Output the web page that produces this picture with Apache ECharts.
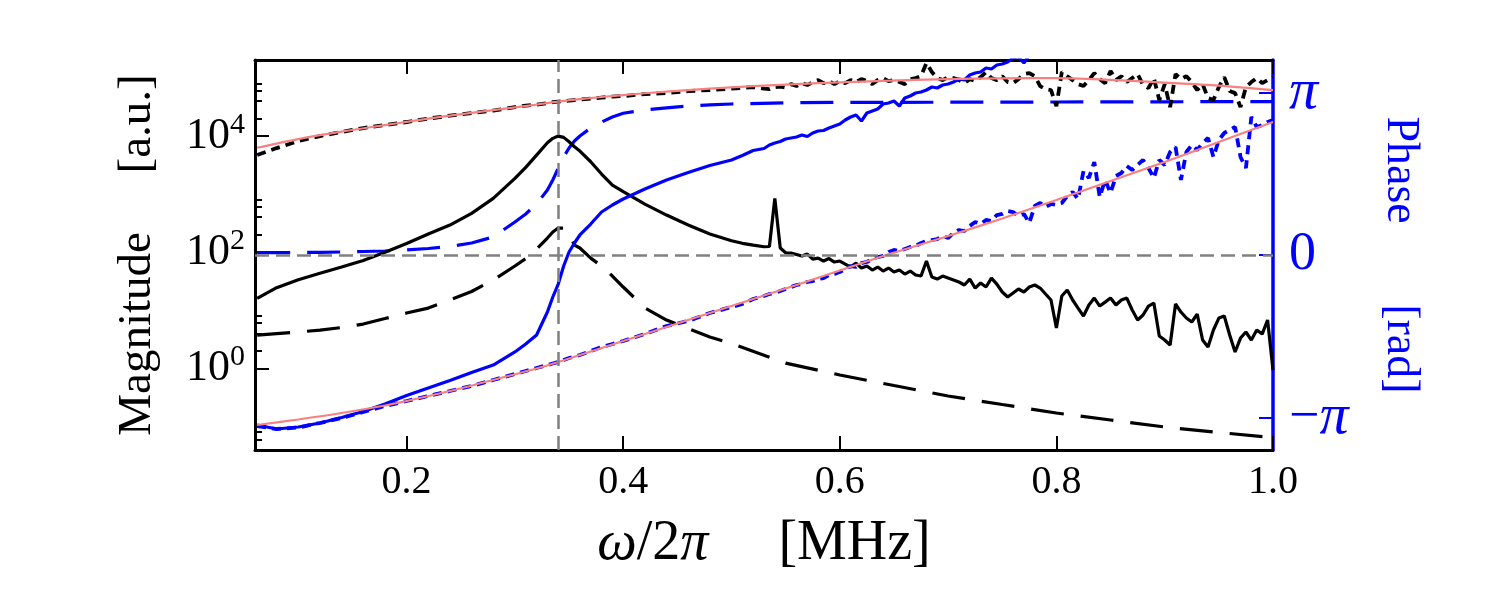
<!DOCTYPE html>
<html>
<head>
<meta charset="utf-8">
<title>Magnitude and phase</title>
<script src="https://cdn.jsdelivr.net/npm/echarts@6/dist/echarts.min.js"></script>
<style>
  html, body { margin: 0; background: #fff; }
  #main { width: 1500px; height: 600px; }
</style>
</head>
<body>
<div id="main"></div>
<script>
// frequency grids, MHz
var freqMeas = [
  0.062, 0.08, 0.10, 0.12, 0.14, 0.16, 0.18, 0.20, 0.22, 0.24, 0.26, 0.28, 0.30,
  0.31, 0.32, 0.33, 0.335, 0.34, 0.345, 0.35, 0.355, 0.36,
  0.37, 0.38, 0.39, 0.40, 0.42, 0.44, 0.46, 0.48, 0.50,
  0.51, 0.52, 0.53, 0.535, 0.54, 0.545, 0.55,
  0.555, 0.56, 0.565, 0.57, 0.575, 0.58, 0.585, 0.59, 0.595, 0.60,
  0.605, 0.61, 0.615, 0.62, 0.625, 0.63, 0.635, 0.64, 0.645, 0.65,
  0.655, 0.66, 0.665, 0.67, 0.675, 0.68, 0.685, 0.69, 0.695, 0.70,
  0.705, 0.71, 0.715, 0.72, 0.725, 0.73, 0.735, 0.74, 0.745, 0.75,
  0.755, 0.76, 0.765, 0.77, 0.775, 0.78, 0.785, 0.79, 0.795, 0.80,
  0.805, 0.81, 0.815, 0.82, 0.825, 0.83, 0.835, 0.84, 0.845, 0.85,
  0.855, 0.86, 0.865, 0.87, 0.875, 0.88, 0.885, 0.89, 0.895, 0.90,
  0.905, 0.91, 0.915, 0.92, 0.925, 0.93, 0.935, 0.94, 0.945, 0.95,
  0.955, 0.96, 0.965, 0.97, 0.975, 0.98, 0.985, 0.99, 0.995, 1.00
];
var freqModel = [
  0.062, 0.08, 0.10, 0.12, 0.14, 0.16, 0.18, 0.20, 0.22, 0.24, 0.26, 0.28, 0.30,
  0.31, 0.32, 0.33, 0.335, 0.34, 0.345, 0.35, 0.355, 0.36,
  0.37, 0.38, 0.39, 0.40, 0.42, 0.44, 0.46, 0.48, 0.50,
  0.55, 0.60, 0.65, 0.70, 0.75, 0.80, 0.85, 0.90, 0.95, 1.00
];
var freqFit = [
  0.062, 0.10, 0.14, 0.18, 0.20, 0.24, 0.28, 0.32, 0.34, 0.36, 0.40, 0.44,
  0.48, 0.52, 0.56, 0.60, 0.64, 0.70, 0.75, 0.80, 0.85, 0.90, 0.95, 1.00
];

// magnitude, a.u. (log axis)
var magDrive = [
  4690, 6190, 8170, 9950, 11700, 13700, 15400, 17400, 19900, 22400, 24800, 27400, 31400,
  33400, 34700, 36800, 38300, 39100, 39900, 40700, 41500, 42300,
  44000, 45800, 47600, 48600, 52600, 54700, 59300, 61700, 65400,
  66800, 69500, 65400, 64100, 69500, 70800, 68100,
  78200, 72300, 81300, 75200, 84700, 91600, 81300, 88100, 78200, 88100,
  81300, 91600, 84700, 95300, 88100, 78200, 91600, 99300, 88100, 91600,
  84700, 78200, 95300, 99300, 107000, 180000, 126000, 99300, 91600, 103000,
  99300, 91600, 81300, 95300, 88100, 103000, 126000, 99300, 91600, 107000,
  84700, 81300, 95300, 116000, 121000, 107000, 72300, 64100, 61700, 32700,
  126000, 107000, 91600, 78200, 72300, 91600, 121000, 95300, 81300, 131000,
  91600, 107000, 84700, 99300, 116000, 75200, 66800, 99300, 41500, 78200,
  31400, 116000, 95300, 107000, 84700, 61700, 78200, 44900, 41500, 69500,
  103000, 59300, 54700, 31400, 69500, 84700, 99300, 81300, 91600, 103000
];
var magResponse = [
  16.0, 24.5, 33.4, 43.2, 55.4, 71.7, 100, 141, 205, 293, 466, 843, 1860,
  2880, 4690, 7640, 9100, 9960, 9460, 7940, 6520, 5500,
  3600, 2210, 1430, 1100, 673, 435, 293, 205, 157,
  142, 132, 124, 125, 843, 118, 97.7,
  96.5, 91, 85.7, 92.7, 76, 79, 70.3, 77.6, 67.6, 70.3,
  62.4, 55.4, 64.9, 53.2, 57.7, 49.2, 55.4, 47.3, 53.2, 45.4,
  49.2, 42, 47.3, 40.4, 38.8, 70.3, 37.3, 34.4, 38.8, 35.8,
  33.1, 30.6, 27.2, 34.4, 24.1, 29.4, 25.1, 35.8, 28.2, 20.6,
  16.9, 19.8, 23.2, 20.6, 25.1, 27.2, 24.1, 19, 15, 4.94,
  17.6, 22.3, 15, 10.9, 7.94, 12.3, 16.2, 11.8, 13.8, 16.2,
  12.3, 15, 16.2, 10.1, 6.78, 8.27, 11.8, 13.3, 3.6, 3.07,
  2.52, 12.8, 9.31, 7.34, 6.27, 8.6, 3.07, 2.33, 4.57, 7.34,
  7.94, 3.74, 1.91, 3.32, 4.22, 3.07, 4.56, 3.89, 6.78, 0.935
];
var magModel = [
  3.74, 3.97, 4.22, 4.56, 5.04, 5.78, 7.19, 8.95, 10.9, 15.0, 21.0, 33.1, 57.7,
  77.6, 113, 175, 222, 260, 260, 205, 132, 118,
  79, 57.7, 38.8, 25.1, 11.0, 6.78, 4.84, 3.46, 2.67,
  1.23, 0.767, 0.506, 0.334, 0.238, 0.170, 0.129, 0.0977, 0.0785, 0.0644
];
var magFit = [
  6270, 8850, 11900, 15400, 17500, 22400, 27900, 34700, 39100, 43200, 50600, 58100,
  65400, 72300, 78200, 83700, 88800, 95300, 98400, 99300, 92400, 83000, 73600, 61700
];

// phase, rad
var phaseResponse = [
  -3.287, -3.364, -3.325, -3.248, -3.142, -3.026, -2.881, -2.716, -2.571, -2.426, -2.272, -2.127, -1.875,
  -1.721, -1.547, -1.102, -0.812, -0.561, -0.213, 0.058, 0.232, 0.387,
  0.599, 0.831, 0.967, 1.083, 1.276, 1.450, 1.595, 1.730, 1.837,
  1.924, 2.020, 2.059, 2.127, 2.165, 2.194, 2.243,
  2.262, 2.281, 2.320, 2.291, 2.359, 2.397, 2.407, 2.455, 2.494, 2.533,
  2.610, 2.668, 2.707, 2.591, 2.745, 2.784, 2.823, 2.919, 2.939, 2.977,
  2.881, 3.035, 3.074, 3.132, 3.151, 3.190, 3.248, 3.229, 3.287, 3.306,
  3.345, 3.403, 3.383, 3.480, 3.519, 3.538, 3.615, 3.596, 3.673, 3.693,
  3.731, 3.809, 3.828, 3.712, 3.867, 3.963, 4.041, 4.157, 4.234, 4.311,
  null, null, null, null, null, null, null, null, null, null,
  null, null, null, null, null, null, null, null, null, null,
  null, null, null, null, null, null, null, null, null, null,
  null, null, null, null, null, null, null, null, null, null
];
var phaseDrive = [
  -3.306, -3.364, -3.335, -3.248, -3.151, -3.035, -2.919, -2.823, -2.726, -2.629, -2.533, -2.417, -2.301,
  -2.243, -2.185, -2.127, -2.098, -2.069, -2.030, -1.991, -1.962, -1.933,
  -1.856, -1.779, -1.721, -1.663, -1.527, -1.373, -1.276, -1.121, -1.005,
  -0.947, -0.851, -0.793, -0.754, -0.735, -0.696, -0.657,
  -0.619, -0.580, -0.561, -0.522, -0.503, -0.464, -0.445, -0.387, -0.367, -0.329,
  -0.271, -0.213, -0.232, -0.155, -0.135, -0.077, -0.039, -0.019, 0.058, 0.097,
  0.077, 0.116, 0.155, 0.174, 0.232, 0.271, 0.290, 0.309, 0.367, 0.329,
  0.425, 0.483, 0.464, 0.561, 0.638, 0.599, 0.677, 0.657, 0.773, 0.793,
  0.851, 0.831, 0.754, 0.793, 0.619, 0.947, 1.005, 0.928, 0.986, 0.967,
  1.005, 1.141, 1.218, 1.083, 1.624, 1.489, 1.798, 1.121, 1.450, 1.199,
  1.527, 1.585, 1.721, 1.643, 1.740, 1.837, 1.682, 1.489, 1.837, 1.740,
  1.991, 2.088, 1.450, 1.991, 2.127, 2.030, 2.165, 2.262, 1.895, 2.223,
  2.359, 2.417, 2.475, 1.895, 1.682, 2.668, 2.475, 2.513, 2.571, 2.610
];
var phaseModel = [
  0.044, 0.046, 0.048, 0.052, 0.058, 0.068, 0.077, 0.097, 0.126, 0.164, 0.232, 0.348, 0.638,
  0.793, 0.986, 1.257, 1.450, 1.682, 1.895, 2.069, 2.204, 2.301,
  2.455, 2.571, 2.668, 2.740, 2.803, 2.846, 2.881, 2.904, 2.919,
  2.943, 2.950, 2.952, 2.954, 2.956, 2.958, 2.960, 2.962, 2.964, 2.966
];
var phaseFit = [
  -3.287, -3.180, -3.055, -2.910, -2.823, -2.630, -2.417, -2.195, -2.069, -1.933, -1.663, -1.392,
  -1.121, -0.851, -0.580, -0.300, -0.019, 0.367, 0.706, 1.063, 1.431, 1.798, 2.185, 2.571
];

var resonanceFreq = 0.341;
var freqTicks = [0.2, 0.4, 0.6, 0.8, 1.0];
var magMajorTicks = [1, 100, 10000];
var magMinorTicks = [0.06, 0.08, 2, 4, 6, 8, 200, 400, 600, 800, 20000, 40000, 60000, 80000];
var phaseTicks = [-Math.PI, 0, Math.PI];

var serif = 'Liberation Serif';
var blue = '#0000ff';
var pink = '#f88080';
var magRange = [-1.406, 5.308];            // decades shown
var phaseRange = [-1.2 * Math.PI, 1.2 * Math.PI];

function pairs(xs, ys, fn) {
  return xs.map(function (x, i) {
    var y = ys[i];
    return [x, y == null ? null : (fn ? fn(y) : y)];
  });
}
function decade(v) { return Math.log10(v); }

function line(name, xs, ys, yIndex, color, width, type, fn, extra) {
  var s = {
    name: name,
    type: 'line',
    xAxisIndex: 0,
    yAxisIndex: yIndex,
    data: pairs(xs, ys, fn),
    showSymbol: false,
    symbol: 'none',
    silent: true,
    lineStyle: { color: color, width: width, type: type, cap: 'butt' }
  };
  for (var k in extra) s[k] = extra[k];
  return s;
}

var chart = echarts.init(document.getElementById('main'));

var tickStyle = { width: 2, color: '#000' };

var option = {
  animation: false,
  backgroundColor: '#ffffff',
  textStyle: { fontFamily: serif },
  grid: { left: 255, right: 227, top: 60, bottom: 150, outerBoundsMode: 'none' },
  xAxis: [{
    type: 'value', position: 'bottom', min: 0.06, max: 1.0,
    axisLine: { onZero: false, lineStyle: { color: '#000', width: 3 } },
    axisTick: { inside: true, length: 14, lineStyle: tickStyle, customValues: freqTicks },
    axisLabel: {
      customValues: freqTicks, margin: 12, color: '#000', fontFamily: serif, fontSize: 40,
      formatter: function (v) { return v.toFixed(1); }
    },
    splitLine: { show: false },
    name: '{i|ω}{r|/2}{i|π}{r|     [MHz]}',
    nameLocation: 'middle', nameGap: 66,
    nameTextStyle: {
      color: '#000',
      rich: {
        i: { fontFamily: serif, fontSize: 56, fontStyle: 'italic', color: '#000' },
        r: { fontFamily: serif, fontSize: 56, color: '#000' }
      }
    }
  }, {
    type: 'value', position: 'top', min: 0.06, max: 1.0,
    axisLine: { onZero: false, lineStyle: { color: '#000', width: 3 } },
    axisTick: { inside: true, length: 14, lineStyle: tickStyle, customValues: freqTicks },
    axisLabel: { show: false },
    splitLine: { show: false }
  }],
  yAxis: [{
    type: 'value', position: 'left', min: magRange[0], max: magRange[1],
    axisLine: { onZero: false, lineStyle: { color: '#000', width: 3 } },
    axisTick: { inside: true, length: 14, lineStyle: tickStyle, customValues: magMajorTicks.map(decade) },
    axisLabel: {
      customValues: magMajorTicks.map(decade), margin: 10,
      formatter: function (v) { return '{b|10}{s|' + Math.round(v) + '}'; },
      rich: {
        b: { fontFamily: serif, fontSize: 44, lineHeight: 52, color: '#000' },
        s: { fontFamily: serif, fontSize: 30, lineHeight: 30, verticalAlign: 'top', color: '#000' }
      }
    },
    splitLine: { show: false },
    name: 'Magnitude     [a.u.]',
    nameLocation: 'middle', nameGap: 94, nameRotate: 90,
    nameTextStyle: { fontFamily: serif, fontSize: 47, color: '#000' }
  }, {
    type: 'value', position: 'left', min: magRange[0], max: magRange[1],
    axisLine: { show: false, onZero: false },
    axisTick: { inside: true, length: 7, lineStyle: tickStyle, customValues: magMinorTicks.map(decade) },
    axisLabel: { show: false },
    splitLine: { show: false }
  }, {
    type: 'value', position: 'right', min: phaseRange[0], max: phaseRange[1],
    axisLine: { onZero: false, lineStyle: { color: blue, width: 3.5 } },
    axisTick: { inside: true, length: 14, lineStyle: { width: 2, color: blue }, customValues: phaseTicks },
    axisLabel: {
      customValues: phaseTicks, margin: 16,
      formatter: function (v) {
        if (v > 1) return '{i|π}';
        if (v < -1) return '{r|−}{i|π}';
        return '{r|0}';
      },
      rich: {
        i: { fontFamily: serif, fontSize: 58, fontStyle: 'italic', color: blue },
        r: { fontFamily: serif, fontSize: 54, color: blue }
      }
    },
    splitLine: { show: false },
    name: 'Phase       [rad]',
    nameLocation: 'middle', nameGap: 104, nameRotate: -90,
    nameTextStyle: { fontFamily: serif, fontSize: 46, color: blue }
  }],
  series: [
    line('model magnitude', freqModel, magModel, 0, '#000', 3.2, [33, 17], decade, {
      markLine: {
        silent: true, symbol: 'none', label: { show: false },
        lineStyle: { color: '#808080', width: 2.5, type: [14, 7] },
        data: [{ xAxis: resonanceFreq }]
      }
    }),
    line('model phase', freqModel, phaseModel, 2, blue, 3.2, [33, 17], null, {
      markLine: {
        silent: true, symbol: 'none', label: { show: false },
        lineStyle: { color: '#808080', width: 2.5, type: [14, 7] },
        data: [{ yAxis: 0 }]
      }
    }),
    line('response magnitude', freqMeas, magResponse, 0, '#000', 3.2, 'solid', decade),
    line('drive magnitude', freqMeas, magDrive, 0, '#000', 3.8, [9, 6], decade),
    line('response phase', freqMeas, phaseResponse, 2, blue, 3.2, 'solid', null),
    line('drive phase', freqMeas, phaseDrive, 2, blue, 3.8, [9, 6], null),
    line('fit magnitude', freqFit, magFit, 0, pink, 2.2, 'solid', decade, { smooth: 0.3 }),
    line('fit phase', freqFit, phaseFit, 2, pink, 2.2, 'solid', null, { smooth: 0.3 })
  ]
};

chart.setOption(option);
</script>
</body>
</html>
